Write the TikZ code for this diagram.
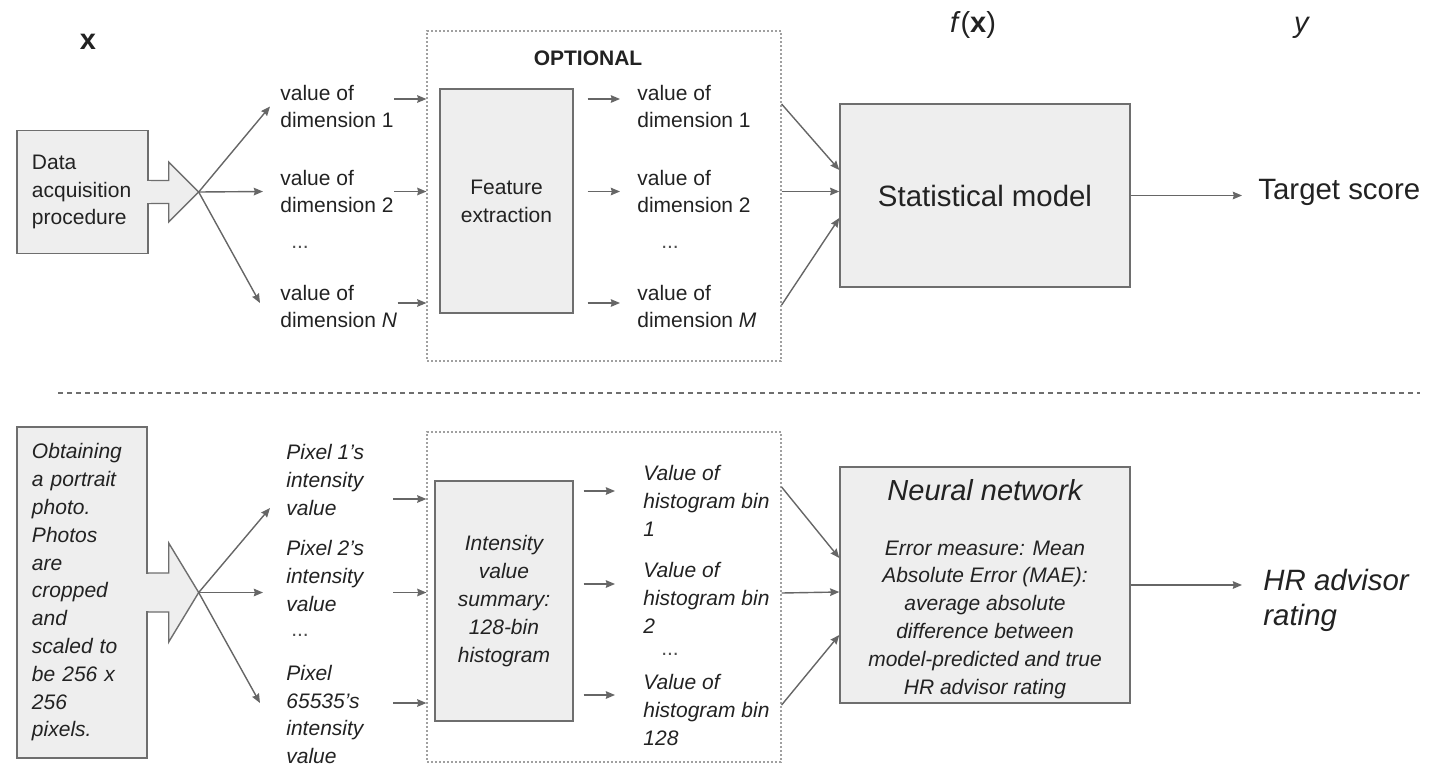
\documentclass[tikz,border=0pt]{standalone}
\usepackage{fontspec}
\setmainfont{Liberation Sans}
\usetikzlibrary{arrows.meta}
\definecolor{boxgray}{HTML}{EEEEEE}
\definecolor{edgegray}{HTML}{6E6E6E}
\definecolor{arrowgray}{HTML}{666666}
\definecolor{dotgray}{HTML}{A0A0A0}
\definecolor{inkgray}{HTML}{222222}
\tikzstyle{block} = [rectangle, draw=edgegray, fill=boxgray, line width=0.7pt, text=inkgray, inner sep=0pt]
\tikzstyle{optframe} = [rectangle, draw=dotgray, line width=0.6pt, dash pattern=on 1pt off 1pt, inner sep=0pt]
\tikzstyle{arrow} = [draw=arrowgray, line width=0.7pt, ->, >={Stealth[length=4.6pt,width=3.8pt,inset=0.5pt]}]
\tikzstyle{dimtext} = [anchor=west, align=left, inner sep=0pt, text=inkgray, font=\fontsize{10.5}{13.9}\selectfont]
\tikzstyle{dimtextit} = [dimtext, font=\fontsize{10.5}{13.9}\selectfont\itshape]
\tikzstyle{ellip} = [inner sep=0pt, text=inkgray!80, font=\fontsize{10.5}{13.9}\selectfont]
\tikzstyle{heading} = [inner sep=0pt, text=inkgray, font=\fontsize{14.5}{17}\selectfont]

\begin{document}
\begin{tikzpicture}[x=0.5pt,y=-0.5pt]
\useasboundingbox (0,0) rectangle (1430,766);

		% generic pipeline
		\node (xlab) [heading, font=\fontsize{14.5}{17}\selectfont\bfseries] at (88,42) {x};
		\node (fxlab) [heading] at (973,25) {\textit{f}(\textbf{x})};
		\node (ylab) [heading] at (1302,28) {\textit{y}};

		\node (acq) [block, minimum width=65.5pt, minimum height=61.5pt, text width=50.5pt, inner xsep=7.5pt, align=left, font=\fontsize{10.5}{13.9}\selectfont] at (82.5,192) {Data\\acquisition\\procedure};
		\filldraw[draw=edgegray, fill=boxgray, line width=0.7pt] ([yshift=5.75pt]acq.east) -- ++(20,0) -- ++(0,-18.5) -- ++(30,30) coordinate (fanA) -- ++(-30,30) -- ++(0,-18.5) -- ++(-20,0) -- cycle;
		\fill[boxgray] ([xshift=-1pt,yshift=5.4pt]acq.east) rectangle ([xshift=1pt,yshift=-5.4pt]acq.east);

		\node (in1) [dimtext] at (280,106.5) {value of\\dimension 1};
		\node (in2) [dimtext] at (280,191.5) {value of\\dimension 2};
		\node (indots) [ellip] at (300,247) {...};
		\node (inN) [dimtext] at (280,306.5) {value of\\dimension \textit{N}};

		\draw [arrow] (fanA) -- ([xshift=-5pt]in1.west);
		\draw [arrow] (fanA) -- ([xshift=-8.5pt]in2.west);
		\draw [arrow] (fanA) -- ([xshift=-10pt,yshift=1.75pt]inN.west);

		\node (opt) [optframe, minimum width=177pt, minimum height=165pt] at (604,196) {};
		\node (optlab) [heading, font=\fontsize{10.5}{12}\selectfont\bfseries] at (588,58) {OPTIONAL};

		\draw [arrow] ([yshift=3.75pt]in1.east) -- ([yshift=3.75pt]in1.east -| opt.west);
		\draw [arrow] (in2.east) -- (in2.east -| opt.west);
		\draw [arrow] ([yshift=1.75pt]inN.east) -- ([yshift=1.75pt]inN.east -| opt.west);

		\node (feat) [block, minimum width=66.5pt, minimum height=112pt, align=center, font=\fontsize{10.5}{13.9}\selectfont] at (506.5,201) {Feature\\extraction};

		\node (out1) [dimtext] at (637,106.5) {value of\\dimension 1};
		\node (out2) [dimtext] at (637,191.5) {value of\\dimension 2};
		\node (outdots) [ellip] at (670,247) {...};
		\node (outM) [dimtext] at (637,306.5) {value of\\dimension \textit{M}};

		\draw [arrow, shorten <=7pt, shorten >=8.5pt] ([yshift=3.75pt]out1.west -| feat.east) -- ([yshift=3.75pt]out1.west);
		\draw [arrow, shorten <=7pt, shorten >=8.5pt] (out2.west -| feat.east) -- (out2.west);
		\draw [arrow, shorten <=7pt, shorten >=8.5pt] ([yshift=1.75pt]outM.west -| feat.east) -- ([yshift=1.75pt]outM.west);

		\node (stat) [block, minimum width=145pt, minimum height=91.5pt, font=\fontsize{14.7}{17}\selectfont] at (985,195.5) {Statistical model};
		\node (target) [dimtext, font=\fontsize{14.7}{17}\selectfont] at (1258,192) {Target score};

		\draw [arrow] ([yshift=1.25pt]out1.west -| opt.east) -- ([yshift=12.75pt]stat.west);
		\draw [arrow] (out2.west -| opt.east) -- ([yshift=2pt]stat.west);
		\draw [arrow] ([yshift=0.75pt]outM.west -| opt.east) -- ([yshift=-11.25pt]stat.west);
		\draw [arrow, shorten >=8pt] (stat.east) -- (stat.east -| target.west);

		\draw [draw=edgegray, line width=0.6pt, dash pattern=on 2.5pt off 2pt] (58,393) -- (1420,393);

		% portrait photo example
		\node (photo) [block, minimum width=65pt, minimum height=165.5pt, text width=50pt, inner xsep=7.5pt, align=left, font=\fontsize{10.5}{13.9}\selectfont\itshape] at (82,592.5) {Obtaining\\a portrait\\photo.\\Photos\\are\\cropped\\and\\scaled to\\be 256 x\\256\\pixels.};
		\filldraw[draw=edgegray, fill=boxgray, line width=0.7pt] ([yshift=9.75pt]photo.east) -- ++(21,0) -- ++(0,-30) -- ++(30,49.5) coordinate (fanB) -- ++(-30,49.5) -- ++(0,-30) -- ++(-21,0) -- cycle;
		\fill[boxgray] ([xshift=-1pt,yshift=9.4pt]photo.east) rectangle ([xshift=1pt,yshift=-9.4pt]photo.east);

		\node (pix1) [dimtextit] at (286,480) {Pixel 1's\\intensity\\value};
		\node (pix2) [dimtextit] at (286,576) {Pixel 2's\\intensity\\value};
		\node (pixdots) [ellip] at (300,635) {...};
		\node (pixN) [dimtextit] at (286,714.5) {Pixel\\65535's\\intensity\\value};

		\draw [arrow] (fanB) -- ([xshift=-8pt,yshift=-14pt]pix1.west);
		\draw [arrow] (fanB) -- ([xshift=-11.5pt,yshift=-8.25pt]pix2.west);
		\draw [arrow] (fanB) -- ([xshift=-13pt,yshift=5.75pt]pixN.west);

		\node (optB) [optframe, minimum width=177pt, minimum height=165pt] at (604,597) {};

		\draw [arrow] ([xshift=-16.5pt,yshift=-9.5pt]pix1.east -| optB.west) -- ([yshift=-9.5pt]pix1.east -| optB.west);
		\draw [arrow] ([xshift=-16.5pt,yshift=-8.25pt]pix2.east -| optB.west) -- ([yshift=-8.25pt]pix2.east -| optB.west);
		\draw [arrow] ([xshift=-16.5pt,yshift=5.75pt]pixN.east -| optB.west) -- ([yshift=5.75pt]pixN.east -| optB.west);

		\node (hist) [block, minimum width=69pt, minimum height=120pt, align=center, font=\fontsize{10.5}{13.9}\selectfont\itshape] at (504,601) {Intensity\\value\\summary:\\128-bin\\histogram};

		\node (bin1) [dimtextit] at (643,501) {Value of\\histogram bin\\1};
		\node (bin2) [dimtextit] at (643,598) {Value of\\histogram bin\\2};
		\node (bindots) [ellip] at (670,654) {...};
		\node (binK) [dimtextit] at (643,710) {Value of\\histogram bin\\128};

		\draw [arrow, shorten <=5pt, shorten >=14pt] ([yshift=5pt]bin1.west -| hist.east) -- ([yshift=5pt]bin1.west);
		\draw [arrow, shorten <=5pt, shorten >=14pt] ([yshift=7pt]bin2.west -| hist.east) -- ([yshift=7pt]bin2.west);
		\draw [arrow, shorten <=5pt, shorten >=14pt] ([yshift=7.5pt]binK.west -| hist.east) -- ([yshift=7.5pt]binK.west);

		\node (nn) [block, minimum width=145pt, minimum height=118pt] at (985,585) {};
		\node (nntitle) [heading, font=\fontsize{14.5}{17}\selectfont\itshape] at (985,490) {Neural network};
		\node (nnloss) [dimtextit, anchor=center, align=center] at (985,619.5) {Error measure: Mean\\Absolute Error (MAE):\\average absolute\\difference between\\model-predicted and true\\HR advisor rating};
		\node (rating) [dimtextit, font=\fontsize{14.7}{17.5}\selectfont\itshape] at (1263,600) {HR advisor\\rating};

		\draw [arrow] ([yshift=7pt]bin1.west -| optB.east) -- ([yshift=13.5pt]nn.west);
		\draw [arrow] ([yshift=2.5pt]bin2.west -| optB.east) -- ([yshift=-3.5pt]nn.west);
		\draw [arrow] ([yshift=2.5pt]binK.west -| optB.east) -- ([yshift=-25pt]nn.west);
		\draw [arrow, shorten >=10.5pt] (nn.east) -- (nn.east -| rating.west);

\end{tikzpicture}
\end{document}
